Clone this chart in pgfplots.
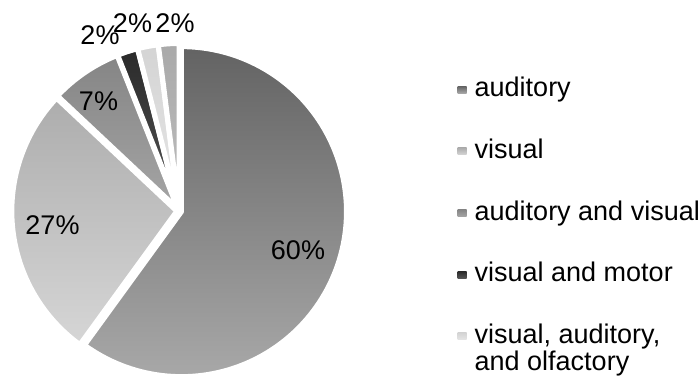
\documentclass[border=0pt]{standalone}
\usepackage{fontspec}
\setmainfont{Liberation Sans}
\usepackage{pgfplots}
\pgfplotsset{compat=1.18}
\definecolor{aT}{HTML}{636363}\definecolor{aB}{HTML}{A8A8A8}
\definecolor{vT}{HTML}{ADADAD}\definecolor{vB}{HTML}{D6D6D6}
\definecolor{avT}{HTML}{858585}\definecolor{avB}{HTML}{A5A5A5}
\definecolor{vmT}{HTML}{2A2A2A}\definecolor{vmB}{HTML}{555555}
\definecolor{voT}{HTML}{D4D4D4}\definecolor{voB}{HTML}{E6E6E6}
\definecolor{oT}{HTML}{A9A9A9}\definecolor{oB}{HTML}{BDBDBD}
\def\Ox{179.2}\def\Oy{166.1}\def\R{165}\def\D{2.4}
% #2 = cumulative percent before the slice, #3 = slice percent
\newcommand{\pieslice}[5][]{%
 \pgfmathsetmacro\aS{90-3.6*#2}%
 \pgfmathsetmacro\aE{90-3.6*(#2+#3)}%
 \pgfmathsetmacro\aM{(\aS+\aE)/2}%
 \pgfmathsetmacro\cx{\Ox+\D*cos(\aM)}%
 \pgfmathsetmacro\cy{\Oy+\D*sin(\aM)}%
 \edef\doslice{\noexpand\addplot[#1, top color=#4, bottom color=#5, draw=white, line width=5pt, line join=round, domain=\aE:\aS, samples=120] ({\cx+\R*cos(x)},{\cy+\R*sin(x)}) -- (axis cs:\cx,\cy) -- cycle;}%
 \doslice
}
\newcommand{\lbl}{\fontsize{27}{27.2}\selectfont}
\begin{document}
\begin{tikzpicture}
\path[use as bounding box] (0,0) rectangle (699pt,377pt);
\begin{axis}[
  at={(0,0)}, anchor=south west,
  x=1pt, y=1pt, xmin=0, xmax=699, ymin=0, ymax=377,
  scale only axis, hide axis, clip=false,
  legend cell align=left,
  legend image code/.code={\path[#1,draw=none] (0pt,3.5pt) rectangle (9pt,10.5pt);},
  legend style={at={(axis cs:457.7,300)}, anchor=north west, draw=none, fill=none,
    inner sep=0pt, outer sep=0pt, row sep=36pt, column sep=8pt,
    nodes={inner sep=0pt, text height=19.7pt, text depth=6pt, anchor=base west},
    font=\lbl},
]
\pieslice{0}{60}{aT}{aB}
\addlegendentry{auditory}
\pieslice{60}{27}{vT}{vB}
\addlegendentry{visual}
\pieslice{87}{7}{avT}{avB}
\addlegendentry{auditory and visual}
\pieslice{94}{2}{vmT}{vmB}
\addlegendentry{visual and motor}
\pieslice{96}{2}{voT}{voB}
\addlegendentry{\vtop{\hbox{visual, auditory,}\hbox{and olfactory}}}
\pieslice[forget plot]{98}{2}{oT}{oB}
\node[anchor=base, font=\lbl] at (axis cs:298,117) {60\%};
\node[anchor=base, font=\lbl] at (axis cs:52.5,142) {27\%};
\node[anchor=base, font=\lbl] at (axis cs:98.5,266) {7\%};
\node[anchor=base, font=\lbl] at (axis cs:100,332) {2\%};
\node[anchor=base, font=\lbl] at (axis cs:132.5,344.7) {2\%};
\node[anchor=base, font=\lbl] at (axis cs:175,344.7) {2\%};
\end{axis}
\end{tikzpicture}
\end{document}
